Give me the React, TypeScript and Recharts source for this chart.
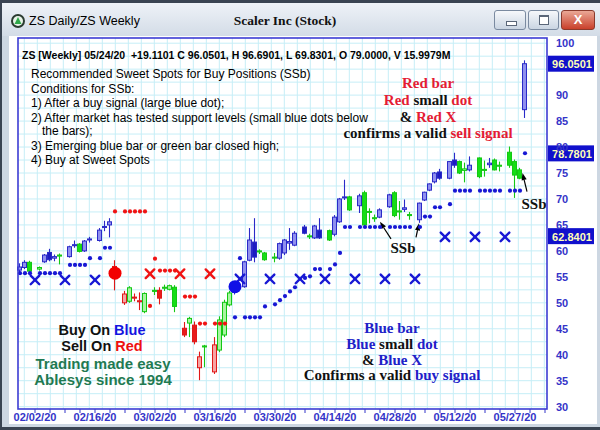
import React from "react";
import {
  ComposedChart,
  Bar,
  Scatter,
  XAxis,
  YAxis,
  CartesianGrid,
  ReferenceLine,
} from "recharts";

// x position = slot: one slot per trading day plus one empty slot per weekend (02/02/20 = 0)
const slots = [
  -3, -2, -1, 1, 2, 3, 4, 5, 7, 8, 9, 10, 11, 13, 14, 15, 16, 18, 19, 20, 21, 22,
  24, 25, 26, 27, 28, 30, 31, 32, 33, 34, 36, 37, 38, 39, 40, 42, 43, 44, 45, 46,
  48, 49, 50, 51, 52, 54, 55, 56, 57, 59, 60, 61, 62, 63, 65, 66, 67, 68, 69,
  71, 72, 73, 74, 75, 77, 78, 79, 80, 81, 83, 84, 85, 86, 87, 89, 90, 91, 92, 93,
  95, 96, 97, 98,
];
const opens = [
  56.3, 56.8, 57.8, 56.5, 57.9, 59.7, 58.6, 59.0, 58.9, 61.0, 61.3, 60.0, 62.1,
  62.0, 64.5, 65.0, 57.0, 50.0, 50.3, 50.9, 50.2, 48.3, 52.2, 52.4, 52.8, 52.6,
  53.0, 45.1, 46.1, 45.7, 37.5, 41.5, 36.7, 40.9, 43.8, 49.6, 52.0, 53.1, 58.2,
  61.7, 59.8, 59.6, 58.6, 58.6, 59.6, 61.5, 61.1, 64.6, 62.8, 62.5, 64.0, 63.9,
  63.2, 65.6, 70.2, 70.4, 68.7, 71.2, 67.5, 66.2, 66.5, 68.5, 71.2, 67.5, 68.0,
  66.8, 66.0, 69.8, 71.7, 73.3, 75.2, 74.0, 77.5, 77.2, 75.5, 75.6, 77.9, 75.5,
  76.6, 77.5, 76.3, 79.0, 77.2, 75.6, 87.2,
];
const highs = [
  57.6, 58.2, 58.1, 57.0, 59.4, 60.4, 59.3, 59.5, 61.0, 62.0, 61.5, 62.1, 62.7,
  64.4, 65.8, 66.3, 58.2, 52.3, 53.2, 51.8, 52.0, 52.0, 53.0, 53.0, 53.5, 53.5,
  53.4, 46.3, 47.3, 46.4, 40.6, 41.9, 43.4, 47.4, 50.6, 52.3, 54.0, 58.1, 64.4,
  66.3, 60.3, 59.8, 59.6, 61.6, 62.3, 64.4, 63.8, 65.0, 63.3, 65.0, 66.3, 64.1,
  66.9, 70.2, 73.7, 70.6, 71.0, 71.6, 68.2, 67.0, 68.2, 71.0, 71.5, 69.6, 69.9,
  67.5, 69.3, 71.4, 73.0, 75.2, 75.8, 77.3, 78.9, 77.4, 77.0, 78.2, 78.0, 77.4,
  77.9, 77.8, 77.2, 80.1, 77.6, 76.0, 96.7,
];
const lows = [
  55.9, 56.5, 55.8, 56.2, 57.7, 58.0, 58.0, 57.4, 58.7, 60.6, 59.7, 59.8, 61.6,
  61.8, 63.8, 62.6, 52.4, 49.6, 50.0, 50.3, 48.6, 48.0, 51.5, 49.7, 52.3, 52.4,
  48.2, 43.4, 43.4, 42.0, 35.1, 37.6, 36.3, 40.5, 43.4, 49.3, 51.6, 52.9, 58.0,
  57.8, 59.4, 58.1, 57.8, 58.3, 59.2, 60.2, 60.9, 63.2, 62.3, 62.3, 62.3, 61.9,
  62.8, 65.4, 69.8, 67.7, 67.3, 64.8, 65.3, 65.6, 66.3, 68.3, 66.5, 66.0, 67.5,
  66.0, 65.4, 69.6, 71.5, 73.0, 73.7, 73.8, 76.0, 74.8, 73.2, 75.3, 74.0, 74.3,
  76.0, 75.5, 75.3, 76.0, 70.2, 73.8, 85.6,
];
const closes = [
  56.9, 57.8, 56.1, 56.8, 59.2, 58.3, 58.9, 59.2, 60.8, 61.2, 59.9, 61.9, 62.3,
  64.0, 64.7, 65.6, 55.0, 51.7, 52.9, 51.1, 50.4, 51.8, 52.4, 50.9, 53.0, 53.3,
  49.3, 43.8, 47.0, 42.5, 39.6, 41.7, 41.9, 46.7, 50.1, 51.9, 53.6, 57.9, 62.1,
  58.8, 60.0, 58.3, 58.8, 61.4, 62.1, 61.8, 63.4, 63.4, 62.9, 64.8, 62.5, 62.1,
  66.5, 70.0, 70.4, 67.9, 70.6, 65.0, 67.6, 66.4, 67.9, 70.8, 66.8, 67.7, 68.3,
  67.0, 69.2, 71.3, 72.9, 75.0, 74.0, 77.2, 76.5, 75.0, 75.8, 76.5, 74.3, 75.7,
  76.9, 75.6, 76.5, 76.5, 74.6, 74.0, 96.05,
];
// B = blue bar, G = green bar, R = red bar
const barColors = [
  "B", "B", "G", "G", "B", "B", "B", "G", "B", "B", "G", "B", "B", "B", "B", "B",
  "R", "R", "G", "R", "R", "G", "G", "R", "G", "G", "G", "R", "G", "R", "R", "G",
  "R", "G", "G", "G", "B", "B", "B", "B", "G", "G", "G", "B", "B", "B", "B", "B",
  "G", "B", "B", "G", "B", "B", "B", "G", "B", "G", "G", "G", "B", "B", "G", "G",
  "B", "G", "B", "B", "B", "B", "B", "B", "B", "G", "G", "B", "G", "G", "B", "G",
  "G", "G", "G", "G", "B",
];

const blueDotSlots = [
  -3, -2, -1, 1, 2, 3, 4, 5, 7, 8, 9, 10, 11, 13, 14, 15, 40, 41, 42, 43, 44, 45,
  46, 48, 49, 50, 51, 52, 54, 55, 56, 57, 59, 60, 61, 62, 63, 65, 66, 67, 68, 69,
  71, 72, 73, 74, 75, 77, 78, 79, 80, 81, 83, 84, 85, 86, 87, 89, 90, 91, 92, 93,
  95, 96, 97, 98,
];
const blueDotValues = [
  55.7, 55.7, 55.7, 55.7, 55.7, 55.7, 55.7, 55.7, 57.3, 57.3, 57.3, 57.3, 58.6,
  58.6, 60.6, 60.6, 47.2, 58.6, 47.2, 47.2, 47.2, 47.2, 49.3, 49.7, 50.5, 51.3,
  52.2, 53.0, 54.8, 55.1, 56.5, 56.5, 56.5, 57.4, 59.6, 64.6, 64.6, 64.6, 64.6,
  64.6, 64.6, 64.6, 64.6, 64.6, 64.6, 64.6, 64.6, 64.6, 66.6, 66.6, 68.4, 68.4,
  69.0, 71.6, 71.6, 71.6, 71.6, 71.6, 71.6, 71.6, 71.6, 71.6, 71.6, 71.6, 71.6,
  78.8,
];
const redDotSlots = [16, 18, 19, 20, 21, 22, 23, 24, 25, 26, 27, 28, 30, 31, 32, 33, 34, 36, 37, 38];
const redDotValues = [
  67.6, 67.6, 67.6, 67.6, 67.6, 67.6, 49.4, 58.5, 56.2, 56.2, 56.2, 56.2, 51.2,
  51.2, 51.2, 46.0, 46.0, 46.0, 46.0, 46.0,
];
const blueXSlots = [0, 6, 12, 41, 47, 53, 58, 64, 70, 76, 82, 88, 94];
const blueXValues = [54.4, 54.4, 54.4, 54.6, 54.6, 54.6, 54.6, 54.6, 54.6, 54.6, 62.7, 62.7, 62.7];
const redXSlots = [23, 29, 35];
const redXValues = [55.6, 55.6, 55.6];
const sellSignalSlots = [16];
const sellSignalValues = [55.7];
const buySignalSlots = [40];
const buySignalValues = [53.1];

const xTickSlots = [
  0, 3, 6, 9, 12, 15, 18, 21, 24, 27, 30, 33, 36, 39, 42, 45, 48, 51, 54, 57, 60,
  63, 66, 69, 72, 75, 78, 81, 84, 87, 90, 93, 96, 99, 102,
];
const xLabelSlots = [0, 12, 24, 36, 48, 60, 72, 84, 96];
const xLabels = ["02/02/20", "02/16/20", "03/02/20", "03/16/20", "03/30/20", "04/14/20", "04/28/20", "05/12/20", "05/27/20"];
// 95 sits under the 96.0501 tag in the reference, so it is not printed
const yTicks = [30, 35, 40, 45, 50, 55, 60, 65, 70, 75, 80, 85, 90, 100];
const priceTags = [96.0501, 78.7801, 62.8401];

const candles = slots.map((s, i) => ({
  s,
  o: opens[i],
  h: highs[i],
  l: lows[i],
  c: closes[i],
  k: barColors[i],
  range: [lows[i], highs[i]],
}));
const pts = (xs: number[], vs: number[]) => xs.map((s, i) => ({ s, v: vs[i] }));

const gridY = Array.from({ length: 29 }, (_, i) => 30 + i * 2.5);
const gridX = Array.from({ length: 41 }, (_, i) => -2.14 + i * 2.6);

const SANS = '"Liberation Sans", Arial, sans-serif';
const SERIF = '"Liberation Serif", "Times New Roman", serif';
const AXIS_BLUE = "#3434c8";
const DOT_BLUE = "#1818d4";
const DOT_RED = "#f01414";
const TXT_RED = "#e41c34";
const TXT_BLUE = "#2020c8";

const palette: Record<string, { line: string; up: string; down: string }> = {
  B: { line: "#2a2ac8", up: "#9090ee", down: "#1c1cc0" },
  G: { line: "#14c814", up: "#aaf4a2", down: "#16de16" },
  R: { line: "#e01818", up: "#f6a4a4", down: "#e81c1c" },
};

function CandleShape(props: any) {
  const { x, y, width, height, payload } = props;
  if (!payload || y == null) return null;
  const { o, h, l, c, k } = payload;
  const pal = palette[k];
  const per = height / (h - l || 1);
  const yO = y + (h - o) * per;
  const yC = y + (h - c) * per;
  const top = Math.min(yO, yC);
  const bh = Math.max(Math.abs(yO - yC), 1);
  const cx = x + width / 2;
  const up = c >= o;
  return (
    <g>
      <line x1={cx} x2={cx} y1={y} y2={y + height} stroke={pal.line} strokeWidth={1.1} />
      <rect x={x} y={top} width={width} height={bh} fill={up ? pal.up : pal.down} stroke={pal.line} strokeWidth={1} />
    </g>
  );
}

const dotShape = (color: string, r: number) => (p: any) => (
  <circle cx={p.cx} cy={p.cy} r={r} fill={color} />
);
const crossShape = (color: string) => (p: any) => {
  const d = 4.3;
  return (
    <g stroke={color} strokeWidth={2.4} strokeLinecap="round">
      <line x1={p.cx - d} y1={p.cy - d} x2={p.cx + d} y2={p.cy + d} />
      <line x1={p.cx - d} y1={p.cy + d} x2={p.cx + d} y2={p.cy - d} />
    </g>
  );
};

function ArrowShape(props: any) {
  const { x1, y1, x2, y2, text, tdx = 0, tdy = 0 } = props;
  const dx = x2 - x1;
  const dy = y2 - y1;
  const len = Math.hypot(dx, dy) || 1;
  const ux = dx / len;
  const uy = dy / len;
  const hl = 7;
  const hw = 2.6;
  const bx = x2 - ux * hl;
  const by = y2 - uy * hl;
  const head = `${x2},${y2} ${bx - uy * hw},${by + ux * hw} ${bx + uy * hw},${by - ux * hw}`;
  return (
    <g>
      <line x1={x1} y1={y1} x2={bx} y2={by} stroke="#000" strokeWidth={1.2} />
      <polygon points={head} fill="#000" />
      {text ? (
        <text x={x1 + tdx} y={y1 + tdy} textAnchor="middle" dominantBaseline="central" fontFamily={SERIF} fontWeight={700} fontSize={15} fill="#111">
          {text}
        </text>
      ) : null}
    </g>
  );
}

function PriceTag(props: any) {
  const { viewBox, text } = props;
  if (!viewBox) return null;
  const x = viewBox.x + viewBox.width + 1;
  const y = viewBox.y;
  return (
    <g>
      <rect x={x} y={y - 8} width={46} height={16} fill="#1010cc" />
      <text x={x + 24} y={y + 0.5} textAnchor="middle" dominantBaseline="central" fontFamily={SANS} fontWeight={700} fontSize={11} fill="#ffffb8">
        {text}
      </text>
    </g>
  );
}

function T(props: { x: number; y: number; mid?: boolean; size: number; bold?: boolean; font?: string; color?: string; children: React.ReactNode }) {
  const { x, y, mid, size, bold, font = SANS, color = "#000", children } = props;
  return (
    <div
      style={{
        position: "absolute",
        left: x,
        top: y,
        transform: `translate(${mid ? "-50%" : "0"}, -50%)`,
        fontSize: size,
        fontWeight: bold ? 700 : 400,
        fontFamily: font,
        color,
        whiteSpace: "nowrap",
        lineHeight: 1,
      }}
    >
      {children}
    </div>
  );
}

const btn: React.CSSProperties = {
  position: "absolute",
  top: 10,
  height: 20,
  borderRadius: 3,
  border: "1px solid #7a8aa0",
  background: "linear-gradient(#f6f8fb, #cad5e2)",
  boxSizing: "border-box",
};

export default function App() {
  const tickLabel = (v: number) => {
    const i = xLabelSlots.indexOf(v);
    return i >= 0 ? xLabels[i] : "";
  };
  return (
    <div style={{ position: "relative", width: 600, height: 430, overflow: "hidden", background: "#cdd7e2" }}>
      <style>{"body{margin:0}"}</style>
      {/* window frame */}
      <div style={{ position: "absolute", left: 0, top: 0, width: 600, height: 3, background: "#3a4452" }} />
      <div style={{ position: "absolute", left: 0, top: 3, width: 600, height: 33, background: "linear-gradient(#eef2f7, #d3dce7)" }} />
      <div style={{ position: "absolute", left: 0, top: 0, width: 2, height: 430, background: "#3a4452" }} />
      <div style={{ position: "absolute", left: 0, top: 427, width: 600, height: 3, background: "#3a4452" }} />
      <div style={{ position: "absolute", left: 9, top: 36, width: 588, height: 388, background: "#fff" }} />
      <svg style={{ position: "absolute", left: 10, top: 13 }} width={16} height={16}>
        <circle cx={8} cy={8} r={7} fill="#2b3b30" />
        <circle cx={8} cy={8} r={5} fill="#e8f4e8" />
        <polygon points="8,4 11.5,11 4.5,11" fill="#2fa84a" />
      </svg>
      <T x={29} y={21} size={12.5}>ZS Daily/ZS Weekly</T>
      <T x={285} y={21} mid size={13.5} bold font={SERIF} color="#111">Scaler Inc (Stock)</T>
      <div style={{ ...btn, left: 494, width: 32 }}>
        <div style={{ position: "absolute", left: 11, top: 10, width: 9, height: 3, background: "#fff", border: "1px solid #5a6678" }} />
      </div>
      <div style={{ ...btn, left: 528, width: 31 }}>
        <div style={{ position: "absolute", left: 10, top: 4, width: 8, height: 7, border: "1px solid #5a6678", borderTopWidth: 2, background: "#fff" }} />
      </div>
      <div style={{ ...btn, left: 561, width: 34, border: "1px solid #8a3a2c", background: "linear-gradient(#eaa896, #c9402b)" }}>
        <div style={{ position: "absolute", left: 0, top: 0, width: 32, height: 18, color: "#fff", fontFamily: SANS, fontWeight: 700, fontSize: 13, textAlign: "center", lineHeight: "18px" }}>X</div>
      </div>

      <div style={{ position: "absolute", left: 0, top: 0 }}>
        <ComposedChart width={600} height={430} data={candles} margin={{ top: 38, right: 0, bottom: 0, left: 18 }}>
          <CartesianGrid stroke="#c6eef7" horizontalValues={gridY} verticalValues={gridX} />
          <XAxis
            type="number"
            dataKey="s"
            domain={[-3.4, 102.4]}
            ticks={xTickSlots}
            interval={0}
            tickFormatter={tickLabel}
            axisLine={false}
            tickLine={{ stroke: AXIS_BLUE }}
            tickSize={4}
            tickMargin={0}
            height={21}
            tick={{ fill: AXIS_BLUE, fontSize: 11, fontWeight: 700, fontFamily: SANS }}
          />
          <YAxis
            orientation="right"
            type="number"
            domain={[29.55, 101.0]}
            ticks={yTicks}
            interval={0}
            axisLine={false}
            tickLine={false}
            tickSize={0}
            tickMargin={9}
            width={53}
            tick={{ fill: AXIS_BLUE, fontSize: 11, fontWeight: 700, fontFamily: SANS }}
          />
          <Bar dataKey="range" barSize={4} shape={(p: any) => <CandleShape {...p} />} isAnimationActive={false} />
          <Scatter data={pts(blueDotSlots, blueDotValues)} dataKey="v" shape={dotShape(DOT_BLUE, 2.1)} isAnimationActive={false} />
          <Scatter data={pts(redDotSlots, redDotValues)} dataKey="v" shape={dotShape(DOT_RED, 2.1)} isAnimationActive={false} />
          <Scatter data={pts(blueXSlots, blueXValues)} dataKey="v" shape={crossShape(DOT_BLUE)} isAnimationActive={false} />
          <Scatter data={pts(redXSlots, redXValues)} dataKey="v" shape={crossShape(DOT_RED)} isAnimationActive={false} />
          <Scatter data={pts(sellSignalSlots, sellSignalValues)} dataKey="v" shape={dotShape("#f20000", 6.5)} isAnimationActive={false} />
          <Scatter data={pts(buySignalSlots, buySignalValues)} dataKey="v" shape={dotShape("#1010e6", 6.5)} isAnimationActive={false} />
          <ReferenceLine
            segment={[{ x: 71.2, y: 62.3 }, { x: 69.0, y: 65.6 }]}
            shape={(p: any) => <ArrowShape {...p} text="SSb" tdx={12} tdy={9} />}
          />
          <ReferenceLine segment={[{ x: 76.2, y: 62.6 }, { x: 76.8, y: 65.3 }]} shape={(p: any) => <ArrowShape {...p} />} />
          <ReferenceLine
            segment={[{ x: 98.4, y: 71.4 }, { x: 97.5, y: 75.0 }]}
            shape={(p: any) => <ArrowShape {...p} text="SSb" tdx={7} tdy={12} />}
          />
          {priceTags.map((v) => (
            <ReferenceLine key={v} y={v} stroke="transparent" label={<PriceTag text={v.toFixed(4)} />} />
          ))}
        </ComposedChart>
      </div>

      <svg style={{ position: "absolute", left: 0, top: 0, pointerEvents: "none" }} width={600} height={430}>
        <rect x={18} y={38} width={529} height={371} fill="none" stroke="#3c3cd4" strokeWidth={1.6} />
      </svg>

      {/* header and notes */}
      <T x={22} y={55} size={10.5} bold>ZS [Weekly] 05/24/20&nbsp; +19.1101 C 96.0501, H 96.6901, L 69.8301, O 79.0000, V 15.9979M</T>
      <T x={31} y={74} size={12}>Recommended Sweet Spots for Buy Positions (SSb)</T>
      <T x={31} y={88.5} size={12}>Conditions for SSb:</T>
      <T x={31} y={103} size={12}>1) After a buy signal (large blue dot);</T>
      <T x={31} y={117.5} size={12}>2) After market has tested support levels (small blue dots below</T>
      <T x={42} y={131} size={12}>the bars);</T>
      <T x={31} y={145.5} size={12}>3) Emerging blue bar or green bar closed high;</T>
      <T x={31} y={160} size={12}>4) Buy at Sweet Spots</T>

      <T x={428} y={83} mid size={15} bold font={SERIF} color={TXT_RED}>Red bar</T>
      <T x={428} y={100} mid size={15} bold font={SERIF} color="#111">
        <span style={{ color: TXT_RED }}>Red</span> small <span style={{ color: TXT_RED }}>dot</span>
      </T>
      <T x={428} y={116.5} mid size={15} bold font={SERIF} color="#111">
        &amp; <span style={{ color: TXT_RED }}>Red X</span>
      </T>
      <T x={428} y={132.5} mid size={15} bold font={SERIF} color="#111">
        confirms a valid <span style={{ color: TXT_RED }}>sell signal</span>
      </T>

      <T x={392} y={328} mid size={15} bold font={SERIF} color={TXT_BLUE}>Blue bar</T>
      <T x={392} y={344} mid size={15} bold font={SERIF} color="#111">
        <span style={{ color: TXT_BLUE }}>Blue</span> small <span style={{ color: TXT_BLUE }}>dot</span>
      </T>
      <T x={392} y={359.5} mid size={15} bold font={SERIF} color="#111">
        &amp; <span style={{ color: TXT_BLUE }}>Blue X</span>
      </T>
      <T x={392} y={375} mid size={15} bold font={SERIF} color="#111">
        Confirms a valid <span style={{ color: TXT_BLUE }}>buy signal</span>
      </T>

      <T x={102} y={330} mid size={14.5} bold color="#111">
        Buy On <span style={{ color: "#1414e0" }}>Blue</span>
      </T>
      <T x={102} y={346} mid size={14.5} bold color="#111">
        Sell On <span style={{ color: "#ee1010" }}>Red</span>
      </T>
      <T x={103} y={363} mid size={15} bold color="#1f7a52">Trading made easy</T>
      <T x={103} y={379} mid size={15} bold color="#1f7a52">Ablesys since 1994</T>
    </div>
  );
}
